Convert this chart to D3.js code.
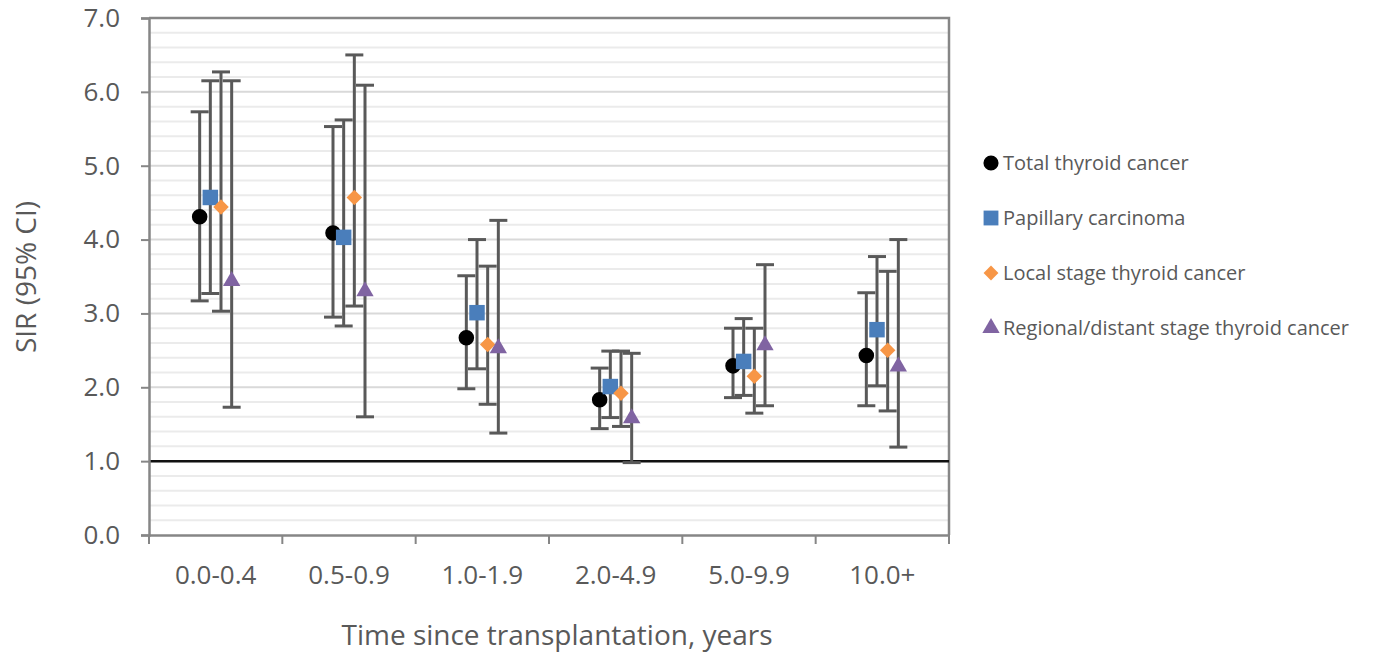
<!DOCTYPE html>
<html>
<head>
<meta charset="utf-8">
<script src="https://cdn.jsdelivr.net/npm/d3@7"></script>
<style>
  body { margin: 0; background: #fff; }
  text { font-family: "Open Sans", sans-serif; fill: #595959; }
</style>
</head>
<body>
<svg id="chart" width="1373" height="664"></svg>
<script>
// categories and series
var periods = ["0.0-0.4", "0.5-0.9", "1.0-1.9", "2.0-4.9", "5.0-9.9", "10.0+"];
var seriesNames = ["Total thyroid cancer", "Papillary carcinoma", "Local stage thyroid cancer", "Regional/distant stage thyroid cancer"];
var seriesColors = ["#000000", "#4a7ebb", "#f79646", "#8064a2"];

// SIR point estimates
var total      = [4.31, 4.09, 2.67, 1.83, 2.29, 2.43];
var papillary  = [4.57, 4.03, 3.01, 2.01, 2.35, 2.78];
var local      = [4.44, 4.57, 2.58, 1.92, 2.15, 2.50];
var regional   = [3.44, 3.30, 2.53, 1.58, 2.57, 2.28];
// 95% CI
var totalLo     = [3.17, 2.95, 1.98, 1.44, 1.86, 1.75];
var totalHi     = [5.73, 5.53, 3.51, 2.26, 2.80, 3.28];
var papillaryLo = [3.27, 2.83, 2.25, 1.59, 1.89, 2.02];
var papillaryHi = [6.15, 5.62, 4.00, 2.49, 2.93, 3.77];
var localLo     = [3.03, 3.10, 1.77, 1.47, 1.65, 1.68];
var localHi     = [6.27, 6.50, 3.64, 2.49, 2.80, 3.57];
var regionalLo  = [1.73, 1.60, 1.38, 0.98, 1.75, 1.19];
var regionalHi  = [6.15, 6.09, 4.26, 2.46, 3.66, 4.00];

var yTicks = [0, 1, 2, 3, 4, 5, 6, 7];

// excel-style diamond (square turned 45deg)
var diamond = {
    draw: function (ctx, size) {
        var h = Math.sqrt(size / 2);
        ctx.moveTo(0, -h); ctx.lineTo(h, 0); ctx.lineTo(0, h); ctx.lineTo(-h, 0); ctx.closePath();
    }
};
var seriesShapes = [d3.symbolCircle, d3.symbolSquare, diamond, d3.symbolTriangle];

var est = [total, papillary, local, regional];
var lo = [totalLo, papillaryLo, localLo, regionalLo];
var hi = [totalHi, papillaryHi, localHi, regionalHi];

var points = [];
est.forEach(function (s, si) {
    s.forEach(function (v, ci) {
        points.push({series: si, cat: periods[ci], v: v, lo: lo[si][ci], hi: hi[si][ci]});
    });
});

var svg = d3.select("#chart"),
    margin = {top: 18, left: 149},
    width = 800,
    height = 517;

var g = svg.append("g")
    .attr("transform", "translate(" + margin.left + "," + margin.top + ")");

var x = d3.scaleBand().domain(periods).range([0, width]);
var off = d3.scalePoint().domain([0, 1, 2, 3]).range([-16, 16]);
var y = d3.scaleLinear().domain([0, 7]).range([height, 0]);

// minor grid
g.append("g")
    .selectAll("line")
    .data(d3.range(0, 7.001, 0.2).filter(function (d) { return Math.abs(d - Math.round(d)) > 0.01; }))
    .join("line")
    .attr("x1", 0).attr("x2", width)
    .attr("y1", d => y(d)).attr("y2", d => y(d))
    .attr("stroke", "#ebebeb")
    .attr("stroke-width", 2);

// major grid
g.append("g")
    .selectAll("line")
    .data(yTicks.slice(1))
    .join("line")
    .attr("x1", 0).attr("x2", width)
    .attr("y1", d => y(d)).attr("y2", d => y(d))
    .attr("stroke", "#d9d9d9")
    .attr("stroke-width", 2);

// frame top/right
g.append("path")
    .attr("d", "M0," + y(7) + "H" + width + "V" + height)
    .attr("fill", "none")
    .attr("stroke", "#868686")
    .attr("stroke-width", 2.5);

// reference line at 1.0
g.append("line")
    .attr("x1", 0).attr("x2", width)
    .attr("y1", y(1)).attr("y2", y(1))
    .attr("stroke", "#111")
    .attr("stroke-width", 2.5);

// y axis
var yAxis = g.append("g")
    .call(d3.axisLeft(y).tickValues(yTicks).tickFormat(d3.format(".1f")).tickSize(8).tickPadding(21));
yAxis.select(".domain").attr("stroke", "#868686").attr("stroke-width", 2.5);
yAxis.selectAll(".tick line").attr("stroke", "#868686").attr("stroke-width", 2);
yAxis.selectAll("text").style("font-size", "26px").attr("fill", "#595959");

// x axis
var xAxis = g.append("g")
    .attr("transform", "translate(0," + height + ")")
    .call(d3.axisBottom(x).tickSize(0));
xAxis.select(".domain").attr("stroke", "#868686").attr("stroke-width", 2.5);
xAxis.selectAll("text")
    .attr("y", 40).attr("dy", "0.35em")
    .style("font-size", "26px").attr("fill", "#595959");
xAxis.selectAll(".bound")
    .data(d3.range(periods.length + 1))
    .join("line")
    .attr("class", "bound")
    .attr("x1", d => d * x.bandwidth()).attr("x2", d => d * x.bandwidth())
    .attr("y1", 0).attr("y2", 9)
    .attr("stroke", "#868686")
    .attr("stroke-width", 2);

// axis titles
svg.append("text")
    .attr("x", 557)
    .attr("y", 645)
    .attr("text-anchor", "middle")
    .style("font-size", "28px")
    .text("Time since transplantation, years");

svg.append("text")
    .attr("transform", "translate(26,277) rotate(-90)")
    .attr("text-anchor", "middle")
    .attr("dy", "0.35em")
    .style("font-size", "28px")
    .text("SIR (95% CI)");

// error bars
var px = d => x(d.cat) + x.bandwidth() / 2 + off(d.series);
var eb = g.append("g").selectAll("g").data(points).join("g");
eb.append("line")
    .attr("x1", px).attr("x2", px)
    .attr("y1", d => y(d.lo)).attr("y2", d => y(d.hi))
    .attr("stroke", "#595959").attr("stroke-width", 3);
eb.append("line")
    .attr("x1", d => px(d) - 9).attr("x2", d => px(d) + 9)
    .attr("y1", d => y(d.lo)).attr("y2", d => y(d.lo))
    .attr("stroke", "#595959").attr("stroke-width", 3);
eb.append("line")
    .attr("x1", d => px(d) - 9).attr("x2", d => px(d) + 9)
    .attr("y1", d => y(d.hi)).attr("y2", d => y(d.hi))
    .attr("stroke", "#595959").attr("stroke-width", 3);

// markers
var symSize = [190, 240, 120, 130];
g.append("g").selectAll("path").data(points).join("path")
    .attr("transform", d => "translate(" + px(d) + "," + y(d.v) + ")")
    .attr("d", d => d3.symbol().type(seriesShapes[d.series]).size(symSize[d.series])())
    .attr("fill", d => seriesColors[d.series]);

// legend
var legend = svg.append("g").attr("transform", "translate(991,163)");
var items = legend.selectAll("g").data(seriesNames).join("g")
    .attr("transform", (d, i) => "translate(0," + i * 55 + ")");
items.append("path")
    .attr("d", (d, i) => d3.symbol().type(seriesShapes[i]).size([180, 220, 110, 130][i])())
    .attr("fill", (d, i) => seriesColors[i]);
items.append("text")
    .attr("x", 12)
    .attr("dy", "0.35em")
    .style("font-size", "20px")
    .text(d => d);
</script>
</body>
</html>
